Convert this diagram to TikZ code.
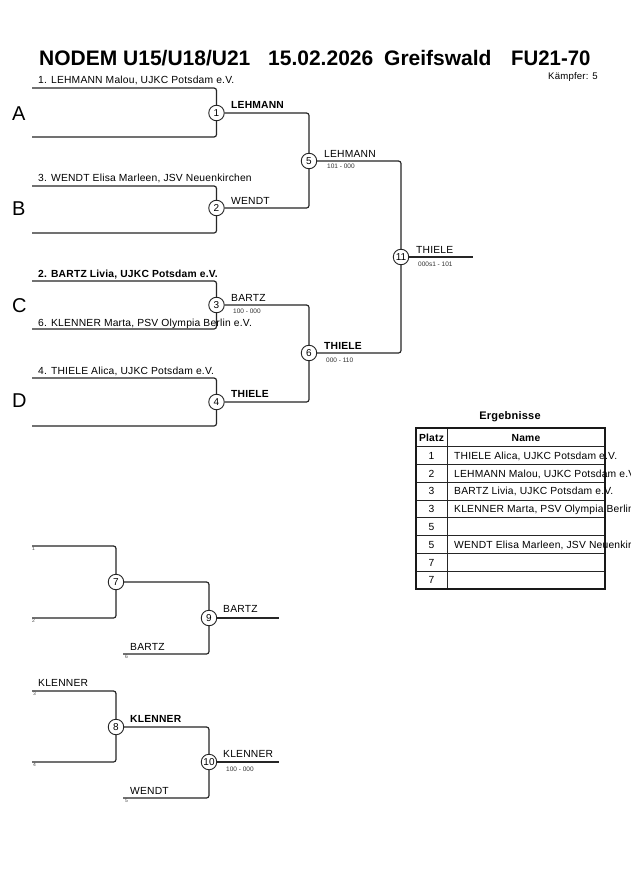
\documentclass[tikz,border=0pt]{standalone}
\usepackage{fontspec}
\setmainfont{Liberation Sans}
\newfontfamily\lsfont{Liberation Sans}[LetterSpace=2]
\begin{document}
\begin{tikzpicture}[x=1pt,y=-1pt,
  ln/.style={line width=1.2pt, draw=black!85, rounded corners=2.5pt},
  circ/.style={circle, draw=black!85, line width=0.9pt, fill=white, minimum size=15.5pt, inner sep=0pt, font=\fontsize{10}{10}\selectfont},
  nm/.style={anchor=base west, inner sep=0pt, font=\lsfont\fontsize{10.3}{12}\selectfont},
  nmb/.style={anchor=base west, inner sep=0pt, font=\lsfont\fontsize{10.3}{12}\selectfont\bfseries},
  sc/.style={anchor=base west, inner sep=0pt, font=\fontsize{6.5}{7}\selectfont, text=black!80},
  smallnum/.style={anchor=base west, inner sep=0pt, font=\fontsize{5}{5}\selectfont, text=black!70},
  big/.style={anchor=base west, inner sep=0pt, font=\fontsize{20}{24}\selectfont},
  ttl/.style={anchor=base west, inner sep=0pt, font=\fontsize{21}{24}\selectfont\bfseries},
  tbl/.style={anchor=base, inner sep=0pt, font=\lsfont\fontsize{10.3}{12}\selectfont},
  tbn/.style={anchor=base west, inner sep=0pt, font=\lsfont\fontsize{10.3}{12}\selectfont},
  tbh/.style={anchor=base, inner sep=0pt, font=\lsfont\fontsize{10.3}{12}\selectfont\bfseries},
]
\clip (0,0) rectangle (630,891);
\fill[white] (0,0) rectangle (630,891);

% title
\node[ttl] (t1) at (39,66) {NODEM U15/U18/U21};
\node[ttl] (t2) at (268,66) {15.02.2026};
\node[ttl] (t3) at (384,66) {Greifswald};
\node[ttl, xscale=0.97] (t4) at (511,66) {FU21-70};
\node[anchor=base west, inner sep=0pt, font=\lsfont\fontsize{9.6}{10}\selectfont] (kf) at (548,79) {Kämpfer: 5};

% pool letters
\node[big] (lA) at (12,120) {A};
\node[big] (lB) at (12,215) {B};
\node[big] (lC) at (12,312) {C};
\node[big] (lD) at (12,407) {D};

% circles
\node[circ] (m1) at (216.5,113) {1};
\node[circ] (m2) at (216.5,208) {2};
\node[circ] (m3) at (216.5,305) {3};
\node[circ] (m4) at (216.5,402) {4};
\node[circ] (m5) at (309,161) {5};
\node[circ] (m6) at (309,353) {6};
\node[circ] (m11) at (401,257) {11};
\node[circ] (m7) at (116,582) {7};
\node[circ] (m9) at (209,618) {9};
\node[circ] (m8) at (116,727) {8};
\node[circ] (m10) at (209,762) {10};

% free ends
\coordinate (a1) at (32,88);
\coordinate (a2) at (32,137);
\coordinate (b1) at (32,186);
\coordinate (b2) at (32,233);
\coordinate (c1) at (32,281);
\coordinate (c2) at (32,329);
\coordinate (d1) at (32,378);
\coordinate (d2) at (32,426);
\coordinate (o11) at (473,257);
\coordinate (r1) at (32,546);
\coordinate (r2) at (32,618);
\coordinate (r6) at (123,654);
\coordinate (o9) at (279,618);
\coordinate (r3) at (32,691);
\coordinate (r4) at (32,762);
\coordinate (r5) at (123,798);
\coordinate (o10) at (279,762);

% connectors
\draw[ln] (a1) -| (m1);
\draw[ln] (a2) -| (m1);
\draw[ln] (b1) -| (m2);
\draw[ln] (b2) -| (m2);
\draw[ln] (c1) -| (m3);
\draw[ln] (c2) -| (m3);
\draw[ln] (d1) -| (m4);
\draw[ln] (d2) -| (m4);
\draw[ln] (m1) -| (m5);
\draw[ln] (m2) -| (m5);
\draw[ln] (m3) -| (m6);
\draw[ln] (m4) -| (m6);
\draw[ln] (m5) -| (m11);
\draw[ln] (m6) -| (m11);
\draw[ln] (m11) -- (o11);
\draw[ln] (r1) -| (m7);
\draw[ln] (r2) -| (m7);
\draw[ln] (m7) -| (m9);
\draw[ln] (r6) -| (m9);
\draw[ln] (m9) -- (o9);
\draw[ln] (r3) -| (m8);
\draw[ln] (r4) -| (m8);
\draw[ln] (m8) -| (m10);
\draw[ln] (r5) -| (m10);
\draw[ln] (m10) -- (o10);

% names
\node[nm] (n1) at (38,84) {1. LEHMANN Malou, UJKC Potsdam e.V.};
\node[nm] (n3) at (38,181) {3. WENDT Elisa Marleen, JSV Neuenkirchen};
\node[nmb] (n2) at (38,277) {2. BARTZ Livia, UJKC Potsdam e.V.};
\node[nm] (n6) at (38,326) {6. KLENNER Marta, PSV Olympia Berlin e.V.};
\node[nm] (n4) at (38,374) {4. THIELE Alica, UJKC Potsdam e.V.};

% winners
\node[nmb] (w1) at (231,108) {LEHMANN};
\node[nm] (w2) at (231,204) {WENDT};
\node[nm] (w3) at (231,301) {BARTZ};
\node[sc] (s3) at (233,313) {100 - 000};
\node[nmb] (w4) at (231,397) {THIELE};
\node[nm] (w5) at (324,157) {LEHMANN};
\node[sc] (s5) at (327,168) {101 - 000};
\node[nmb] (w6) at (324,349) {THIELE};
\node[sc] (s6) at (326,362) {000 - 110};
\node[nm] (w11) at (416,253) {THIELE};
\node[sc] (s11) at (418,266) {000s1 - 101};

% repechage
\node[smallnum] (q1) at (32,550) {1};
\node[smallnum] (q2) at (32,622) {2};
\node[nm] (w9) at (223,612) {BARTZ};
\node[nm] (p6) at (130,650) {BARTZ};
\node[smallnum] (q6) at (125,658) {6};
\node[nm] (p3) at (38,686) {KLENNER};
\node[smallnum] (q3) at (33,695) {3};
\node[smallnum] (q4) at (33,766) {4};
\node[nmb] (w8) at (130,722) {KLENNER};
\node[nm] (w10) at (223,757) {KLENNER};
\node[sc] (s10) at (226,771) {100 - 000};
\node[nm] (p5) at (130,794) {WENDT};
\node[smallnum] (q5) at (125,802) {5};

% results table
\node[anchor=base, inner sep=0pt, font=\lsfont\fontsize{11}{13}\selectfont\bfseries] (erg) at (510,419) {Ergebnisse};
\foreach \y in {446.7,464.5,482.3,500,517.7,535.5,553.3,571.1}
  \draw[line width=1pt, black!85] (416,\y) -- (605,\y);
\draw[line width=1pt, black!85] (447,428) -- (447,589);
\draw[line width=1.5pt, black!90] (416,428) rectangle (605,589);
\node[tbh] (hp) at (431.5,441) {Platz};
\node[tbh] (hn) at (526,441) {Name};
\node[tbl] (p1) at (431.5,459.3) {1};
\node[tbl] (p2) at (431.5,477.1) {2};
\node[tbl] (p3r) at (431.5,494.9) {3};
\node[tbl] (p4) at (431.5,512.6) {3};
\node[tbl] (p5r) at (431.5,530.4) {5};
\node[tbl] (p6r) at (431.5,548.2) {5};
\node[tbl] (p7) at (431.5,566) {7};
\node[tbl] (p8) at (431.5,583.8) {7};
\node[tbn] (e1) at (454,459.3) {THIELE Alica, UJKC Potsdam e.V.};
\node[tbn] (e2) at (454,477.1) {LEHMANN Malou, UJKC Potsdam e.V.};
\node[tbn] (e3) at (454,494.9) {BARTZ Livia, UJKC Potsdam e.V.};
\node[tbn] (e4) at (454,512.6) {KLENNER Marta, PSV Olympia Berlin e.V.};
\node[tbn] (e6) at (454,548.2) {WENDT Elisa Marleen, JSV Neuenkirchen};
\end{tikzpicture}
\end{document}
